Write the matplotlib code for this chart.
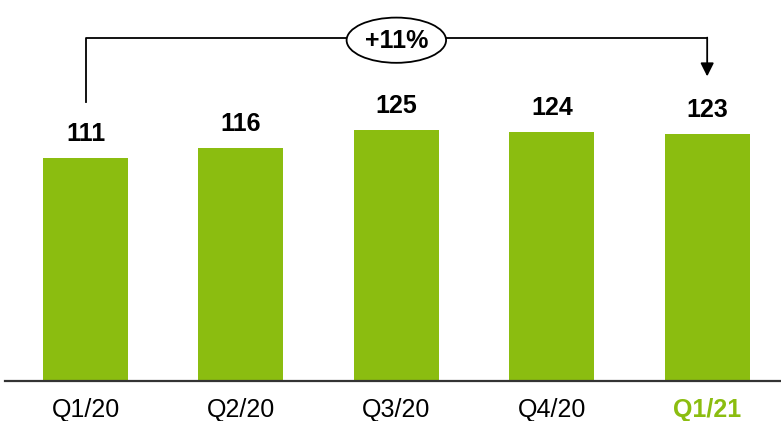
import matplotlib.pyplot as plt
from matplotlib.patches import Ellipse

quarters = ['Q1/20', 'Q2/20', 'Q3/20', 'Q4/20', 'Q1/21']
values = [111, 116, 125, 124, 123]

GREEN = '#8bbd10'

plt.rcParams['font.family'] = ['Liberation Sans', 'DejaVu Sans']

fig = plt.figure(figsize=(7.81, 4.21), dpi=100)
ax = fig.add_axes([5 / 781, 40 / 421, 776 / 781, 381 / 421])

x = list(range(len(values)))
ax.bar(x, values, width=0.547, color=GREEN)
ax.set_xlim(-0.518, 4.475)
ax.set_ylim(0, 189.5)

for xi, v in zip(x, values):
    ax.text(xi, v + 6, str(v), ha='center', va='bottom',
            fontsize=18, fontweight='bold', color='black')

# growth bracket from first to last quarter
top = 170.5
growth = (values[-1] - values[0]) / values[0] * 100
ax.plot([x[0], x[0], x[-1]], [values[0] + 28, top, top], color='black', lw=1.3)
ax.annotate('', xy=(x[-1], values[-1] + 28.5), xytext=(x[-1], top + 0.3),
            arrowprops=dict(arrowstyle='-|>', color='black', lw=1.3,
                            mutation_scale=20, shrinkA=0, shrinkB=0))
mid = (x[0] + x[-1]) / 2
ax.add_patch(Ellipse((mid, top - 1), 0.64, 22.5, facecolor='white',
                     edgecolor='black', lw=1.3, zorder=3))
ax.text(mid, top - 1.5, f'+{growth:.0f}%', ha='center', va='center',
        fontsize=18, fontweight='bold', zorder=4)

for s in ['top', 'right', 'left']:
    ax.spines[s].set_visible(False)
ax.spines['bottom'].set_color('#333333')
ax.spines['bottom'].set_linewidth(1.6)
ax.set_yticks([])
ax.set_xticks(x)
ax.set_xticklabels(quarters, fontsize=18)
ax.tick_params(axis='x', length=0, pad=12)
last = ax.get_xticklabels()[-1]
last.set_color(GREEN)
last.set_fontweight('bold')

fig.savefig('out.png', dpi=100)
